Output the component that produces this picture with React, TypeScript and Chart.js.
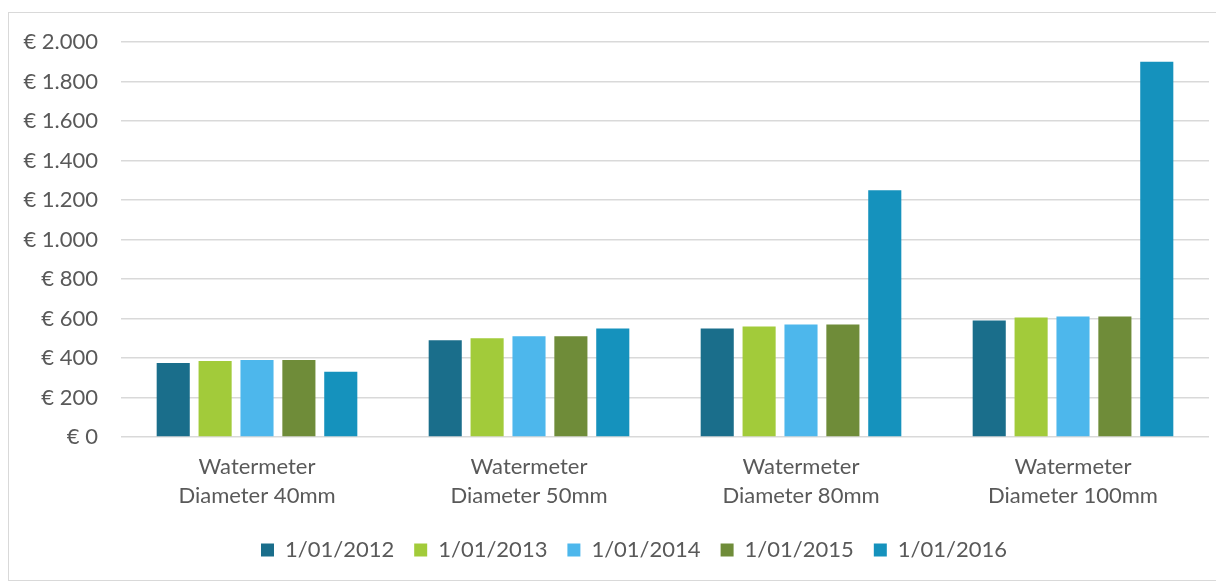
import React, { useEffect, useRef } from "react";
import { Chart, registerables } from "chart.js";

Chart.register(...registerables);

const categories: string[][] = [
  ["Watermeter", "Diameter 40mm"],
  ["Watermeter", "Diameter 50mm"],
  ["Watermeter", "Diameter 80mm"],
  ["Watermeter", "Diameter 100mm"],
];

const seriesLabels = ["1/01/2012", "1/01/2013", "1/01/2014", "1/01/2015", "1/01/2016"];

const values2012 = [375, 490, 550, 590];
const values2013 = [385, 500, 560, 605];
const values2014 = [390, 510, 570, 610];
const values2015 = [390, 510, 570, 610];
const values2016 = [330, 550, 1250, 1900];

const seriesColors = ["#1A6E8B", "#A2CB3A", "#4DB7EC", "#6F8C39", "#1592BD"];

const yMin = 0;
const yMax = 2000;
const yStep = 200;

const FONT = "Lato, 'Open Sans', sans-serif";
const TEXT = "#595959";

const legendShift = {
  id: "legendShift",
  afterLayout(chart: any) {
    const l = chart.legend;
    if (l) {
      l.left += 25;
      l.right += 25;
    }
  },
};

export default function App() {
  const ref = useRef<HTMLCanvasElement | null>(null);

  useEffect(() => {
    if (!ref.current) return;
    const allValues = [values2012, values2013, values2014, values2015, values2016];
    const chart = new Chart(ref.current, {
      type: "bar",
      data: {
        labels: categories,
        datasets: allValues.map((v, i) => ({
          label: seriesLabels[i],
          data: v,
          backgroundColor: seriesColors[i],
          borderWidth: 0,
          categoryPercentage: 0.77,
          barPercentage: 0.79,
        })),
      },
      plugins: [legendShift],
      options: {
        responsive: false,
        animation: false,
        maintainAspectRatio: false,
        layout: { padding: { left: 0, right: 12, top: 29, bottom: 9 } },
        plugins: {
          tooltip: { enabled: false },
          legend: {
            position: "bottom",
            labels: {
              boxWidth: 13,
              boxHeight: 13,
              padding: 20,
              color: TEXT,
              font: { family: FONT, size: 22 },
            },
          },
        },
        scales: {
          x: {
            grid: { display: false, drawTicks: false },
            border: { display: false },
            ticks: {
              color: TEXT,
              font: { family: FONT, size: 22, lineHeight: 1.32 },
              padding: 15,
              maxRotation: 0,
              autoSkip: false,
            },
            afterFit: (scale: any) => {
              scale.height = 82;
              scale.paddingLeft = 0;
              scale.paddingRight = 0;
            },
          },
          y: {
            min: yMin,
            max: yMax,
            grid: { color: "#d9d9d9", lineWidth: 1.5, drawTicks: false },
            border: { display: false },
            ticks: {
              stepSize: yStep,
              color: TEXT,
              font: { family: FONT, size: 22 },
              padding: 23,
              callback: (v: any) =>
                "€ " + Number(v).toString().replace(/\B(?=(\d{3})+(?!\d))/g, "."),
            },
            afterFit: (scale: any) => {
              scale.width = 112;
              scale.paddingTop = 0;
              scale.paddingBottom = 0;
            },
          },
        },
      },
    });
    return () => chart.destroy();
  }, []);

  return (
    <div
      style={{
        marginTop: 4,
        width: 1212,
        height: 567,
        border: "1px solid #d9d9d9",
        background: "#fff",
      }}
    >
      <canvas ref={ref} width={1212} height={567} style={{ display: "block" }} />
    </div>
  );
}
